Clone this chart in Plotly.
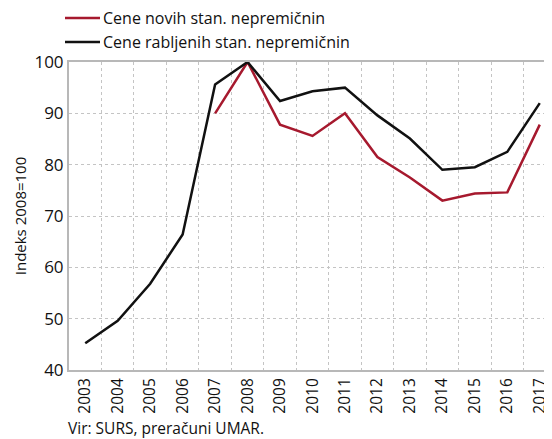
import plotly.graph_objects as go

years = [str(y) for y in range(2003, 2018)]
novih = [None, None, None, None, 90.0, 100.0, 87.8, 85.6, 90.0, 81.5, 77.5, 73.0, 74.4, 74.6, 87.8]
rabljenih = [45.2, 49.6, 56.8, 66.4, 95.6, 100.0, 92.4, 94.3, 95.0, 89.6, 85.1, 79.0, 79.5, 82.5, 92.0]
name_novih = "Cene novih stan. nepremičnin"
name_rab = "Cene rabljenih stan. nepremičnin"
col_novih = "#A6192E"
col_rab = "#111111"

FONT = "Open Sans"
OFF = 8  # page body margin
W, H = 552, 439
L, R, T, B = 61, 4, 54, 77
pw, ph = W - L - R, H - T - B

def px(x):  # page x -> paper
    return (x - OFF - L) / pw

def py(y):  # page y -> paper
    return (H - B - (y - OFF)) / ph

fig = go.Figure()
fig.add_trace(go.Scatter(x=years, y=novih, name=name_novih, mode="lines",
                         line=dict(color=col_novih, width=2.5)))
fig.add_trace(go.Scatter(x=years, y=rabljenih, name=name_rab, mode="lines",
                         line=dict(color=col_rab, width=2.5)))

fig.update_layout(
    width=W, height=H,
    margin=dict(l=L, r=R, t=T, b=B),
    plot_bgcolor="white", paper_bgcolor="white",
    font=dict(family=FONT, size=15, color="#111"),
    showlegend=False,
    xaxis=dict(type="category", tickangle=-90, tickson="boundaries",
               showgrid=True, griddash="dot", gridcolor="#c4c4c4", gridwidth=1,
               showline=True, linecolor="#b8b8b8", linewidth=2, mirror=True,
               ticks="", tickfont=dict(size=15.5), range=[-0.5, 14.5]),
    yaxis=dict(range=[40, 100], dtick=10, showgrid=True, griddash="dot",
               gridcolor="#c4c4c4", gridwidth=1,
               showline=True, linecolor="#b8b8b8", linewidth=2,
               ticks="", tickfont=dict(size=17), zeroline=False,
               title=dict(text="Indeks 2008=100", font=dict(size=15), standoff=4)),
)

# manual legend
for name, col, yy in [(name_novih, col_novih, 18), (name_rab, col_rab, 42)]:
    fig.add_shape(type="line", xref="paper", yref="paper",
                  x0=px(65), x1=px(100), y0=py(yy), y1=py(yy),
                  line=dict(color=col, width=2.5))
    fig.add_annotation(text=name, xref="paper", yref="paper",
                       x=px(101), y=py(yy), xanchor="left", yanchor="middle",
                       showarrow=False, font=dict(size=16))

fig.add_annotation(text="Vir: SURS, preračuni UMAR.", xref="paper", yref="paper",
                   x=px(66), y=py(428), xanchor="left", yanchor="middle",
                   showarrow=False, font=dict(size=15.5))
fig.write_html("out.html")
